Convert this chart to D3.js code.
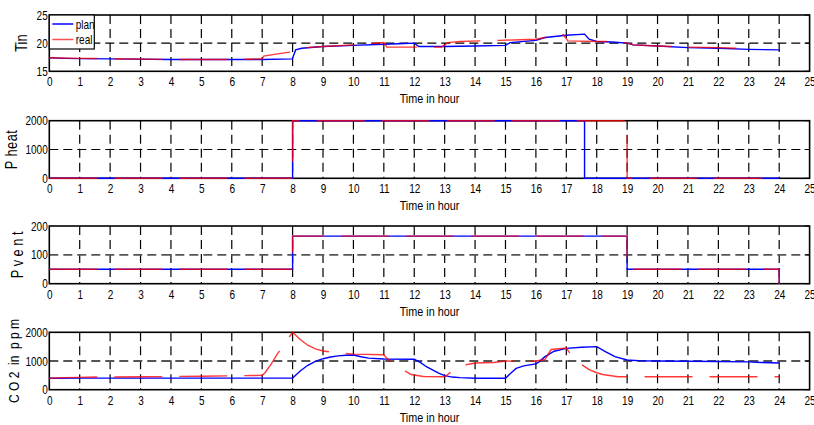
<!DOCTYPE html>
<html lang="en">

<head>
    <meta charset="UTF-8">
    <title>Plan vs real</title>
    <script src="https://d3js.org/d3.v7.min.js"></script>
    <style>
        * {
            margin: 0;
            padding: 0;
        }

        body {
            background: #fff;
        }

        text {
            font-family: "Liberation Sans", Arial, sans-serif;
            fill: #000;
        }
    </style>
</head>

<body>
    <script>
        // hour ticks shared by all panels
        var hourTicks = d3.range(0, 26);

        // Tin
        var tinTicks = [15, 20, 25];
        var tinPlan = [[0, 17.4], [0.5, 17.3], [1, 17.25], [2, 17.2], [4, 17.1], [6, 17.1], [7, 17.1], [7.99, 17.2],
            [8.1, 18.8], [8.3, 19.1], [9, 19.4], [10, 19.6], [11, 19.8], [11.5, 19.9], [12, 20.0], [12.15, 19.4],
            [13, 19.4], [14, 19.5], [15, 19.6], [15.15, 20.1], [16, 20.5], [16.3, 21.0], [17, 21.4], [17.6, 21.6],
            [17.75, 20.7], [18, 20.3], [18.5, 20.2], [19, 20.0], [19.2, 19.7], [20, 19.5], [21, 19.2], [22, 19.1],
            [23, 18.9], [24, 18.8]];
        var tinReal = [[0, 17.4], [1, 17.3], [2, 17.25], [4, 17.1], [6, 17.1], [7, 17.2], [7.05, 17.7], [7.4, 18.0],
            [7.9, 18.4], [8.2, 19.1], [9, 19.4], [10, 19.7], [10.5, 19.9], [11, 20.1], [11.1, 19.3], [12, 19.3],
            [12.9, 19.3], [13.1, 20.1], [13.5, 20.3], [14.2, 20.4], [14.8, 20.5], [15.5, 20.6], [16, 20.7],
            [16.3, 21.0], [16.9, 21.5], [17.05, 20.4], [18, 20.3], [18.6, 20.3], [19, 20.0], [19.2, 19.7],
            [20, 19.5], [21, 19.3], [22, 19.2], [23, 19.0]];

        // Pheat (step values, held until next point)
        var heatTicks = [0, 1000, 2000];
        var heatPlan = [[0, 0], [8, 2000], [17.6, 0], [24, 0]];
        var heatReal = [[0, 0], [8, 2000], [19, 0], [24, 0]];

        // Pvent (step values)
        var ventTicks = [0, 100, 200];
        var ventPlan = [[0, 50], [8, 165], [19, 50], [24, 0]];
        var ventReal = [[0, 50], [8, 165], [19, 50], [24, 0]];

        // CO2 in ppm
        var co2Ticks = [0, 1000, 2000];
        var co2Plan = [[0, 400], [1, 405], [4, 405], [7, 405], [8, 410], [8.25, 650], [8.5, 850], [8.75, 990],
            [9, 1080], [9.25, 1140], [9.5, 1180], [9.75, 1200], [10, 1210], [10.25, 1150], [10.5, 1100],
            [11, 1070], [12, 1060], [12.2, 950], [12.4, 800], [12.6, 690], [12.8, 580], [13, 490], [13.25, 440],
            [13.5, 420], [14, 400], [15, 400], [15.2, 600], [15.35, 740], [15.6, 830], [16, 900], [16.1, 970],
            [16.3, 1150], [16.6, 1340], [17, 1440], [17.5, 1480], [18, 1500], [18.3, 1320], [18.6, 1150],
            [19, 1035], [19.5, 1005], [20, 1000], [21, 990], [22, 980], [23, 970], [23.4, 950], [24, 930]];
        var co2Real = [[0, 400], [0.5, 420], [1, 430], [1.5, 440], [3, 450], [5, 470], [6.3, 490], [7, 500],
            [7.1, 600], [7.3, 900], [7.5, 1250], [7.8, 1700], [8, 2000], [8.25, 1750], [8.5, 1550], [8.75, 1420],
            [9, 1350], [9.5, 1280], [10, 1240], [11, 1220], [11.05, 1150], [11.25, 950], [11.5, 800],
            [11.75, 620], [11.9, 530], [12.3, 460], [13, 450], [13.1, 530], [13.25, 650], [13.5, 800],
            [13.75, 880], [14, 930], [14.6, 950], [15, 1000], [15.5, 980], [16, 1000], [16.3, 1050],
            [16.5, 1400], [17, 1450], [17.1, 1300], [17.25, 1100], [17.5, 880], [17.75, 700], [18, 590],
            [18.2, 530], [18.7, 450], [24, 450]];

        var legendNames = ["plan", "real"];

        var W = 814, H = 425;
        var left = 49.3, right = 809.6;
        var squeeze = "scale(0.8,1)";

        var panels = [
            { top: 15, bottom: 71.3, domain: [15, 25], ticks: tinTicks, label: "Tin", lx: 27, ls: 0, size: 16, plan: tinPlan, real: tinReal, step: false, hcol: "#000" },
            { top: 120.7, bottom: 178.3, domain: [0, 2000], ticks: heatTicks, label: "P heat", lx: 17, ls: 0.6, size: 16, plan: heatPlan, real: heatReal, step: true, hcol: "#000" },
            { top: 226, bottom: 283.7, domain: [0, 200], ticks: ventTicks, label: "P v e n t", lx: 23, ls: 0, size: 16, plan: ventPlan, real: ventReal, step: true, hcol: "#555" },
            { top: 332.3, bottom: 389.7, domain: [0, 2000], ticks: co2Ticks, label: "C O 2  in  p p m", lx: 19, ls: 0, size: 15, plan: co2Plan, real: co2Real, step: false, hcol: "#555" }
        ];

        var svg = d3.select("body")
            .append("svg")
            .attr("width", W)
            .attr("height", H);

        var x = d3.scaleLinear().domain([0, 25]).range([left, right]);

        panels.forEach(function (p, pi) {
            var y = d3.scaleLinear().domain(p.domain).range([p.bottom, p.top]);
            var g = svg.append("g");

            // vertical grid
            g.selectAll(".vgrid")
                .data(hourTicks.slice(1, -1))
                .enter()
                .append("line")
                .attr("x1", function (d) { return x(d); })
                .attr("x2", function (d) { return x(d); })
                .attr("y1", p.top)
                .attr("y2", p.bottom)
                .attr("stroke", "#000")
                .attr("stroke-width", 1.2)
                .attr("stroke-dasharray", "9,5");

            // horizontal grid
            g.selectAll(".hgrid")
                .data(p.ticks.slice(1, -1))
                .enter()
                .append("line")
                .attr("x1", left)
                .attr("x2", right)
                .attr("y1", function (d) { return y(d); })
                .attr("y2", function (d) { return y(d); })
                .attr("stroke", p.hcol)
                .attr("stroke-width", p.hcol == "#000" ? 1.2 : 1.8)
                .attr("stroke-dasharray", "9,5");

            // axis frame (drawn under the data)
            g.append("rect")
                .attr("x", left)
                .attr("y", p.top)
                .attr("width", right - left)
                .attr("height", p.bottom - p.top)
                .attr("fill", "none")
                .attr("stroke", "#000")
                .attr("stroke-width", 1.6);

            // right-side small ticks
            g.selectAll(".rtick")
                .data(p.ticks)
                .enter()
                .append("line")
                .attr("x1", right)
                .attr("x2", right - 5)
                .attr("y1", function (d) { return y(d); })
                .attr("y2", function (d) { return y(d); })
                .attr("stroke", "#000");

            var line = d3.line()
                .x(function (d) { return x(d[0]); })
                .y(function (d) { return y(d[1]); })
                .curve(p.step ? d3.curveStepAfter : d3.curveLinear);

            g.append("path")
                .datum(p.plan)
                .attr("d", line)
                .attr("fill", "none")
                .attr("stroke", "#0000ff")
                .attr("stroke-width", 1.4);

            g.append("path")
                .datum(p.real)
                .attr("d", line)
                .attr("fill", "none")
                .attr("stroke", "#ff0000")
                .attr("stroke-opacity", 0.78)
                .attr("stroke-width", 1.4)
                .attr("stroke-dasharray", "48,17");

            // bottom axis labels
            var xAxis = d3.axisBottom(x).tickValues(hourTicks).tickSize(0).tickPadding(6).tickFormat(d3.format("d"));
            g.append("g")
                .attr("transform", "translate(0," + p.bottom + ")")
                .call(xAxis)
                .call(function (s) { s.select(".domain").remove(); })
                .selectAll("text")
                .attr("font-size", "12.5px")
                .attr("transform", squeeze)
                .style("font-family", null);

            // left axis labels
            var yAxis = d3.axisLeft(y).tickValues(p.ticks).tickSize(0).tickPadding(2).tickFormat(d3.format("d"));
            g.append("g")
                .attr("transform", "translate(" + left + ",0)")
                .call(yAxis)
                .call(function (s) { s.select(".domain").remove(); })
                .selectAll("text")
                .attr("font-size", "12.5px")
                .attr("transform", squeeze)
                .style("font-family", null);

            g.append("text")
                .attr("transform", "translate(" + (left + right) / 2 + "," + (p.bottom + 32) + ") " + squeeze)
                .attr("text-anchor", "middle")
                .attr("font-size", "13.5px")
                .text("Time in hour");

            g.append("text")
                .attr("transform", "translate(" + p.lx + "," + (p.top + p.bottom) / 2 + ") rotate(-90) " + squeeze)
                .attr("text-anchor", "middle")
                .attr("font-size", p.size + "px")
                .attr("letter-spacing", p.ls)
                .style("white-space", "pre")
                .text(p.label);

            if (pi == 0) {
                var lg = g.append("g");
                lg.append("rect")
                    .attr("x", left)
                    .attr("y", p.top)
                    .attr("width", 45)
                    .attr("height", 34)
                    .attr("fill", "#fff")
                    .attr("stroke", "#000")
                    .attr("stroke-width", 1.2);
                var cols = ["#0000ff", "#ff5050"];
                legendNames.forEach(function (n, i) {
                    lg.append("line")
                        .attr("x1", left + 3)
                        .attr("x2", left + 24)
                        .attr("y1", p.top + 9 + i * 15.5)
                        .attr("y2", p.top + 9 + i * 15.5)
                        .attr("stroke", cols[i])
                        .attr("stroke-width", 1.5);
                    lg.append("text")
                        .attr("transform", "translate(" + (left + 26.5) + "," + (p.top + 13.5 + i * 15.5) + ") " + squeeze)
                        .attr("font-size", "12.5px")
                        .text(n);
                });
            }
        });
    </script>
</body>

</html>
